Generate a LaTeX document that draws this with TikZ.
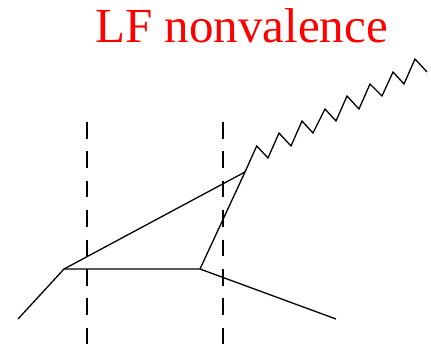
\documentclass[tikz,border=0pt]{standalone}
\usepackage{fontspec}
\setmainfont{Liberation Serif}
\begin{document}
\begin{tikzpicture}[x=1pt,y=-1pt,
  bond/.style={line width=1.3pt,line join=miter},
  cut/.style={line width=2pt,dash pattern=on 16.5pt off 12.9pt},
  title/.style={text=red,font=\fontsize{49}{58}\selectfont,inner sep=0pt,anchor=base}]
\useasboundingbox (0,0) rectangle (431,349);
\node[title] (t) at (241.5,42) {LF nonvalence};
\coordinate (l) at (18,319);
\coordinate (a) at (64,269);
\coordinate (b) at (200,269);
\coordinate (r) at (336,319);
\coordinate (c) at (245,172);
\coordinate (z) at (427,72);
\draw[cut] (87,122) -- (87,345);
\draw[cut] (223,122) -- (223,345);
\draw[bond] (l) -- (a) -- (b) -- (r);
\draw[bond] (a) -- (c) -- (b);
\draw[bond] (c) -- (256.7,146) -- (268,158) -- (279,133) -- (291,146) -- (302,121) -- (313,133) -- (325,109) -- (336,121) -- (347,96) -- (359,109) -- (370,84) -- (382,96) -- (393,72) -- (404,84) -- (415,59) -- (z);
\end{tikzpicture}
\end{document}
